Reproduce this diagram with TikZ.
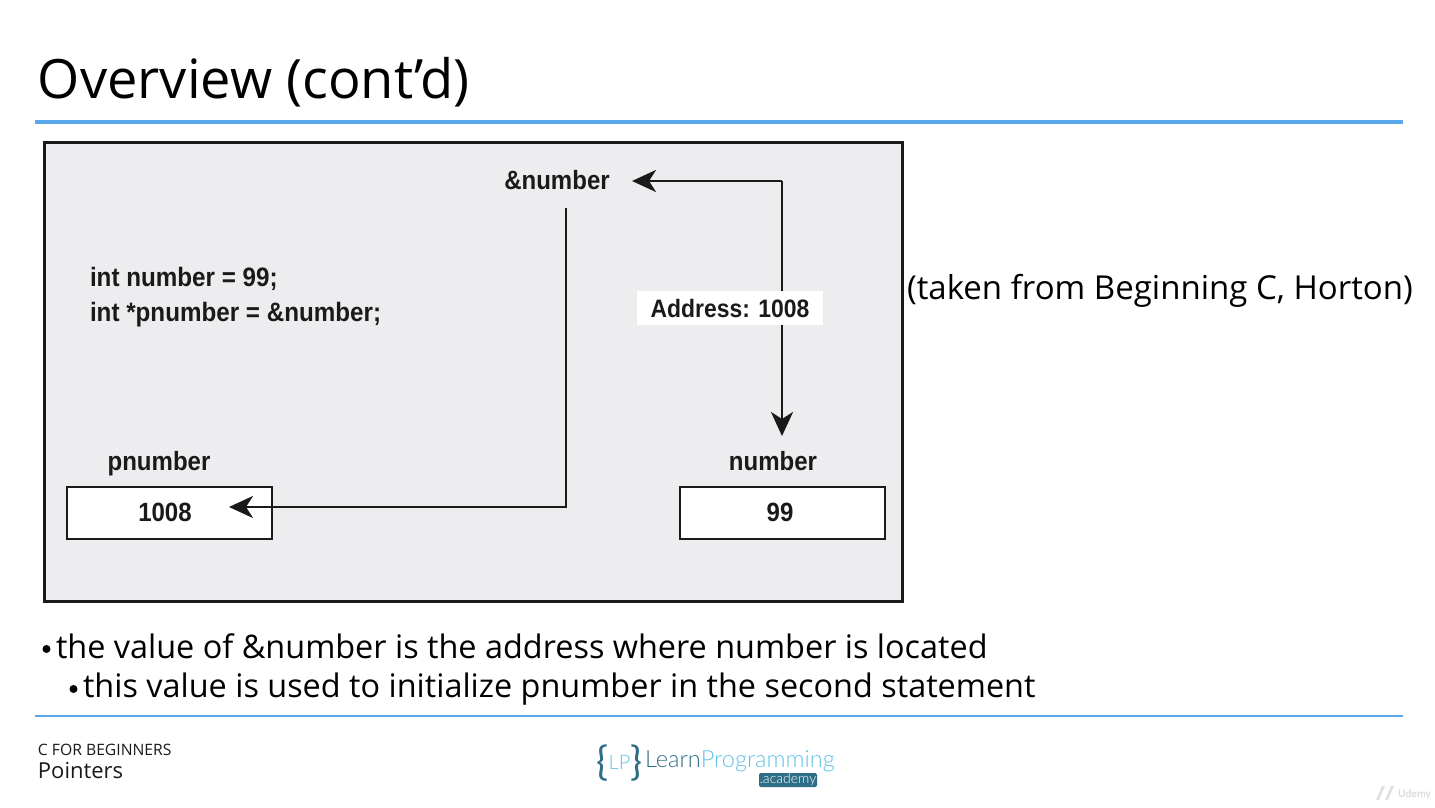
\documentclass[tikz,border=0pt]{standalone}
\usepackage{fontspec}
\setmainfont{Open Sans}
\newfontfamily\figfont[FakeStretch=0.91]{Liberation Sans}
\newfontfamily\logofont{Lato Light}
\newfontfamily\logobold{Lato}
\usetikzlibrary{arrows.meta,calc}
\definecolor{rule}{HTML}{5BA7EC}
\definecolor{panel}{HTML}{EDEDF0}
\definecolor{ink}{HTML}{1A1A1A}
\definecolor{logodark}{HTML}{2F6E87}
\definecolor{logolight}{HTML}{63C3E6}
\tikzset{
  every node/.style={inner sep=0pt,outer sep=0pt},
  px/.style={x=0.5pt,y=-0.5pt},
  rulebar/.style={draw=rule,line width=1.6pt},
  slide/.style={text=black,anchor=base west},
  figlabel/.style={font=\figfont\bfseries\fontsize{13.2}{16}\selectfont,text=ink,anchor=base},
  figcode/.style={font=\figfont\bfseries\fontsize{13.3}{17.5}\selectfont,text=ink,anchor=base west},
  cell/.style={draw=ink,fill=white,line width=1.3pt,minimum width=102.5pt,minimum height=26pt,anchor=north west},
  conn/.style={draw=ink,line width=1.3pt},
  arr/.style={conn,-{Stealth[length=12pt,width=11pt,inset=3.5pt]}},
}
\begin{document}
\begin{tikzpicture}[px]
\useasboundingbox (0,0) rectangle (1435,808);
\fill[white] (0,0) rectangle (1435,808);
\node[slide,font=\fontsize{27.1}{34}\selectfont] (title) at (38,98) {Overview (cont’d)};
\coordinate (r1a) at (35,122); \coordinate (r1b) at (1403,122);
\draw[rulebar] (r1a) -- (r1b);
\node[draw=ink,fill=panel,line width=1.5pt,minimum width=429pt,minimum height=229.5pt,anchor=north west] (panelbox) at (44,142.5) {};
\node[figlabel] (amp) at (557,190) {\&number};
\node[figcode] (code1) at (90,286) {int number = 99;};
\node[figcode] (code2) at (90,321) {int *pnumber = \&number;};
\node[figlabel] (plabel) at (159,470) {pnumber};
\node[figlabel] (nlabel) at (773,470) {number};
\node[cell] (pcell) at (67,487) {};
\node[cell] (ncell) at (680,487) {};
\node[figlabel] (pval) at (165,521) {1008};
\node[figlabel] (nval) at (780,521) {99};
\coordinate (corner) at (782,181);
\coordinate (amptip) at (632,181);
\coordinate (numtip) at (782,436);
\coordinate (startdown) at (566,208);
\coordinate (bend) at (566,507);
\coordinate (ptip) at (229,507);
\draw[arr] (corner) -- (amptip);
\draw[arr] (corner) -- (numtip);
\draw[arr] (startdown) -- (bend) -- (ptip);
\node[fill=white,minimum width=93pt,minimum height=17pt] (addr) at (730,308) {};
\node[font=\figfont\bfseries\fontsize{12.6}{16}\selectfont,text=ink] (addrtext) at (730,308) {Address: 1008};
\node[slide,font=\fontsize{16.5}{20}\selectfont] (credit) at (907,299) {(taken from Beginning C, Horton)};
\node[slide,font=\fontsize{16.2}{20}\selectfont] (b1) at (56,658) {the value of \&number is the address where number is located};
\node[slide,font=\fontsize{16.2}{20}\selectfont] (b2) at (83,697) {this value is used to initialize pnumber in the second statement};
\fill (46.5,649) circle (2pt);
\fill (73.5,689) circle (2pt);
\coordinate (r2a) at (35,716); \coordinate (r2b) at (1403,716);
\draw[rulebar,line width=1.2pt] (r2a) -- (r2b);
\node[slide,font=\fontsize{7.85}{9}\selectfont,text=ink] (course) at (38,755) {C FOR BEGINNERS};
\node[slide,font=\fontsize{11}{13}\selectfont,text=ink] (topic) at (38,778) {Pointers};
% logo
\node[anchor=center,font=\logobold\fontsize{20}{24}\selectfont,text=logodark] (lmark) at (619.5,763) {\{\raisebox{3pt}{\textcolor{logolight}{\logofont\fontsize{10}{11}\selectfont LP}}\}};
\node[anchor=base west,font=\logofont\fontsize{11.8}{14}\selectfont,text=logodark] (lname) at (645,767) {Learn\textcolor{logolight}{Programming}};
\node[fill=logodark,rounded corners=1pt,text=white,font=\logofont\fontsize{7}{8}\selectfont,minimum width=29pt,minimum height=7pt] (lacad) at (788,780) {.academy};
\fill[black!12] (1376,800) -- (1382,786) -- (1385,786) -- (1379,800) -- cycle;
\fill[black!12] (1385,800) -- (1391,786) -- (1394,786) -- (1388,800) -- cycle;
\node[anchor=base west,font=\logobold\bfseries\fontsize{5.2}{6}\selectfont,text=black!14] (ud) at (1398,797) {Udemy};
\end{tikzpicture}
\end{document}
